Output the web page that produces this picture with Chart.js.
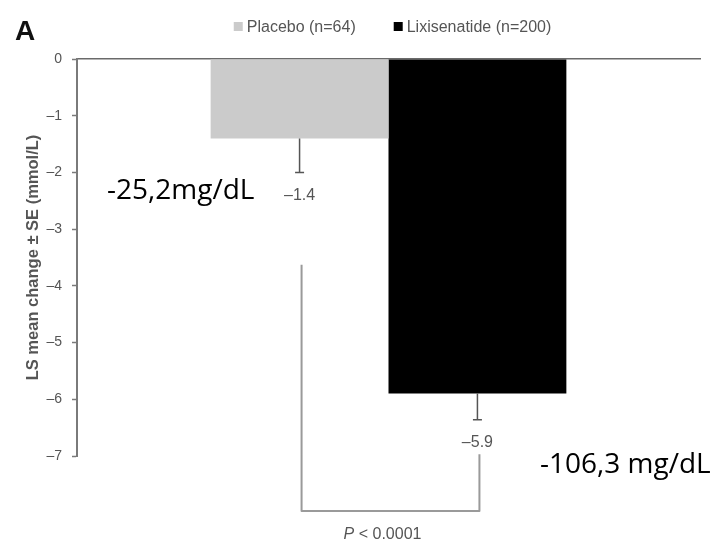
<!DOCTYPE html>
<html>
<head>
<meta charset="utf-8">
<style>
  html, body { margin: 0; padding: 0; background: #ffffff; }
  #wrap { width: 715px; height: 544px; position: relative; }
</style>
<script src="https://cdn.jsdelivr.net/npm/chart.js@4/dist/chart.umd.min.js"></script>
</head>
<body>
<div id="wrap"><canvas id="chart" width="715" height="544"></canvas></div>
<script>
// Treatment groups and LS mean change in FPG (mmol/L)
const categories = [''];
const seriesLabels = ['Placebo (n=64)', 'Lixisenatide (n=200)'];
const seriesColors = ['#cbcbcb', '#000000'];
const meanChange = [-1.4, -5.9];
const standardError = [0.6, 0.46];
const valueLabels = ['\u20131.4', '\u20135.9'];

// Y axis range and ticks
const yMin = -7;
const yMax = 0;
const yStep = 1;

// Significance bracket (top of each leg, bottom of bracket) in mmol/L
const bracketTops = [-3.63, -6.97];
const bracketBottom = -7.97;
const pValueText = ['P', ' < 0.0001'];

// Conversions to mg/dL written beside the bars
const mgLabels = ['-25,2mg/dL', '-106,3 mg/dL'];

const FONT = '"Liberation Sans", Arial, sans-serif';
const GREY_TEXT = '#555555';

const overlay = {
  id: 'overlay',
  afterDatasetsDraw(chart) {
    const ctx = chart.ctx;
    const y = chart.scales.y;
    const area = chart.chartArea;
    const centers = chart.data.datasets.map((ds, i) => chart.getDatasetMeta(i).data[0].x);

    ctx.save();
    // error bars (downward only) and value labels
    centers.forEach((x, i) => {
      const yBar = y.getPixelForValue(meanChange[i]);
      const yCap = y.getPixelForValue(meanChange[i] - standardError[i]);
      ctx.strokeStyle = '#555555';
      ctx.lineWidth = 1.5;
      ctx.beginPath();
      ctx.moveTo(x, yBar);
      ctx.lineTo(x, yCap);
      ctx.moveTo(x - 4.5, yCap);
      ctx.lineTo(x + 4.5, yCap);
      ctx.stroke();

      ctx.fillStyle = GREY_TEXT;
      ctx.font = '16px ' + FONT;
      ctx.textAlign = 'center';
      ctx.textBaseline = 'middle';
      ctx.fillText(valueLabels[i], x, yCap + 23);
    });

    // significance bracket
    const xl = centers[0] + 2;
    const xr = centers[1] + 2;
    const yb = y.getPixelForValue(bracketBottom);
    ctx.strokeStyle = '#9a9a9a';
    ctx.lineWidth = 2;
    ctx.lineJoin = 'round';
    ctx.beginPath();
    ctx.moveTo(xl, y.getPixelForValue(bracketTops[0]));
    ctx.lineTo(xl, yb);
    ctx.lineTo(xr, yb);
    ctx.lineTo(xr, y.getPixelForValue(bracketTops[1]));
    ctx.stroke();

    // p-value with italic P
    ctx.fillStyle = GREY_TEXT;
    ctx.textBaseline = 'middle';
    ctx.textAlign = 'left';
    const italic = 'italic 16px ' + FONT;
    const upright = '16px ' + FONT;
    ctx.font = italic;
    const w1 = ctx.measureText(pValueText[0]).width;
    ctx.font = upright;
    const w2 = ctx.measureText(pValueText[1]).width;
    const px = (xl + xr) / 2 - 8 - (w1 + w2) / 2;
    const py = yb + 24;
    ctx.font = italic;
    ctx.fillText(pValueText[0], px, py);
    ctx.font = upright;
    ctx.fillText(pValueText[1], px + w1, py);

    // legend
    ctx.font = '16px ' + FONT;
    const box = 9, gapBox = 4, gapItem = 38;
    const widths = seriesLabels.map(t => box + gapBox + ctx.measureText(t).width);
    const total = widths.reduce((a, b) => a + b, 0) + gapItem;
    let lx = (area.left + area.right) / 2 + 4 - total / 2;
    const ly = 27.5;
    seriesLabels.forEach((t, i) => {
      ctx.fillStyle = seriesColors[i];
      ctx.fillRect(lx, ly - box / 2 - 1, box, box);
      ctx.fillStyle = GREY_TEXT;
      ctx.textAlign = 'left';
      ctx.fillText(t, lx + box + gapBox, ly);
      lx += widths[i] + gapItem;
    });

    // panel letter
    ctx.fillStyle = '#111111';
    ctx.font = 'bold 28px ' + FONT;
    ctx.textBaseline = 'alphabetic';
    ctx.fillText('A', 15, 40);

    // mg/dL conversions
    ctx.fillStyle = '#000000';
    ctx.font = '28px "Open Sans", sans-serif';
    ctx.fillText(mgLabels[0], 107, 199);
    ctx.fillText(mgLabels[1], 540, 473);
    ctx.restore();
  }
};

new Chart(document.getElementById('chart'), {
  type: 'bar',
  data: {
    labels: categories,
    datasets: seriesLabels.map((label, i) => ({
      label: label,
      data: [meanChange[i]],
      backgroundColor: seriesColors[i],
      borderWidth: 0,
      categoryPercentage: 0.571,
      barPercentage: 1.0
    }))
  },
  options: {
    responsive: false,
    animation: false,
    devicePixelRatio: 1,
    layout: { padding: { left: 20, right: 15, top: 59, bottom: 88 } },
    plugins: {
      legend: { display: false },
      tooltip: { enabled: false }
    },
    scales: {
      x: {
        position: 'top',
        ticks: { display: false },
        grid: { drawOnChartArea: false, drawTicks: false, color: 'rgba(0,0,0,0)' },
        border: { display: true, color: '#6a6a6a', width: 1.5 }
      },
      y: {
        min: yMin,
        max: yMax,
        afterFit(scale) { scale.width = 57; },
        ticks: {
          stepSize: yStep,
          padding: 10,
          color: GREY_TEXT,
          font: { family: FONT, size: 14 },
          callback: v => (v < 0 ? '\u2013' + Math.abs(v) : String(v))
        },
        grid: { drawOnChartArea: false, tickLength: 5, tickColor: '#7a7a7a', tickWidth: 1.5 },
        border: { display: true, color: '#7a7a7a', width: 2 },
        title: {
          display: true,
          text: 'LS mean change \u00b1 SE (mmol/L)',
          color: GREY_TEXT,
          font: { family: FONT, size: 16.5, weight: 'bold' },
          padding: { top: 4, bottom: 4 }
        }
      }
    }
  },
  plugins: [overlay]
});
</script>
</body>
</html>
